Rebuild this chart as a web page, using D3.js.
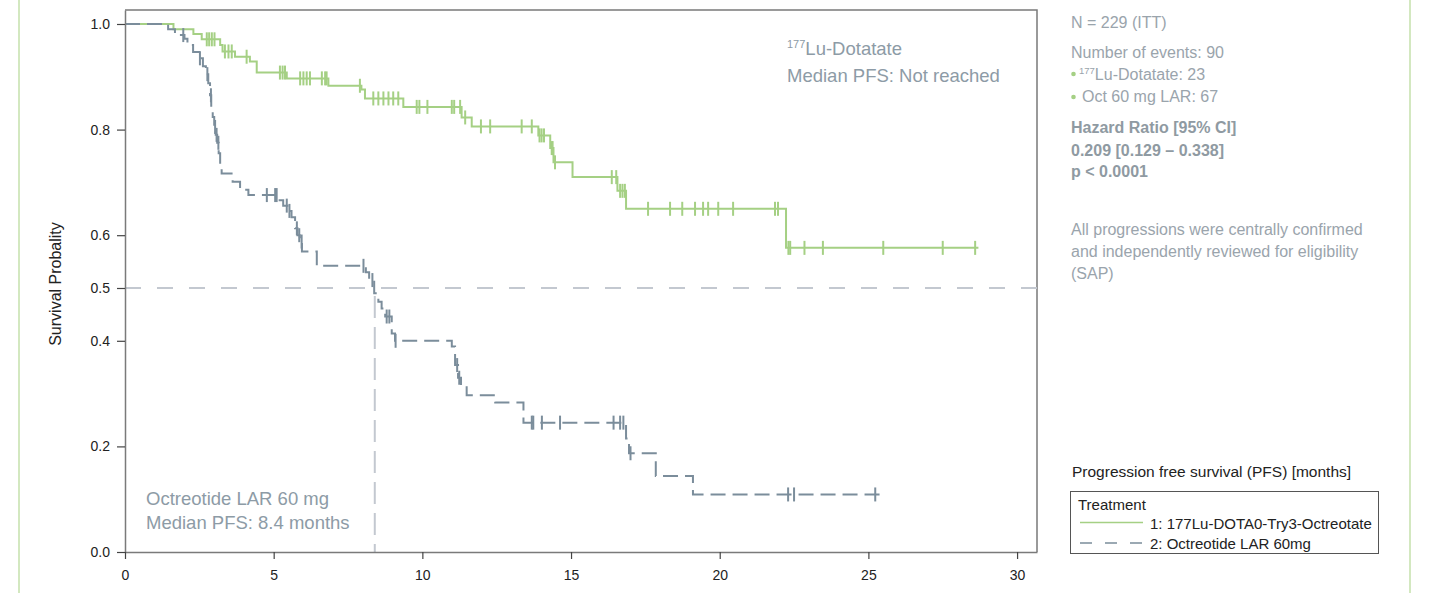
<!DOCTYPE html>
<html>
<head>
<meta charset="utf-8">
<script src="https://cdn.jsdelivr.net/npm/d3@7"></script>
<style>
  body { margin: 0; background: #fff; }
  svg { display: block; font-family: 'Liberation Sans', Arial, sans-serif; }
</style>
</head>
<body>
<script>
'use strict';

// 177Lu-Dotatate arm: step times (months) and survival after each step
const luTimes  = [1.63, 2.30, 2.58, 3.20, 3.28, 3.70, 4.20, 4.43, 5.44, 6.84, 7.95, 8.07,
                  9.36, 11.32, 11.66, 13.90, 14.30, 14.41, 15.05, 16.56, 16.85, 22.23];
const luSurv   = [0.990, 0.981, 0.971, 0.960, 0.948, 0.938, 0.929, 0.908, 0.897, 0.883, 0.876, 0.859,
                  0.843, 0.823, 0.806, 0.789, 0.765, 0.738, 0.710, 0.684, 0.650, 0.576];
const luCensor = [2.75, 2.83, 2.92, 3.01, 3.36, 3.48, 3.59, 4.09, 5.21, 5.30, 5.38, 5.89, 6.00,
                  6.11, 6.22, 6.62, 6.73, 6.78, 7.90, 8.35, 8.52, 8.69, 8.86, 9.02, 9.19, 9.81,
                  9.90, 10.17, 10.99, 11.07, 11.27, 11.44, 11.97, 12.28, 13.34, 13.68, 13.94, 14.01,
                  14.09, 14.35, 14.38, 14.46, 16.37, 16.52, 16.65, 16.73, 16.81, 17.59, 18.33, 18.74,
                  19.17, 19.44, 19.61, 19.95, 20.45, 21.86, 21.96, 22.31, 22.37, 22.85, 23.47, 25.50,
                  27.50, 28.59];
const luEnd    = 28.7;

// Octreotide LAR 60 mg arm
const octTimes  = [1.45, 1.68, 2.00, 2.10, 2.29, 2.50, 2.62, 2.72, 2.80, 2.86, 2.90, 2.95, 3.00,
                   3.05, 3.10, 3.15, 3.20, 3.25, 3.62, 3.87, 4.15, 5.15, 5.32, 5.52, 5.60, 5.72,
                   5.80, 5.88, 5.95, 6.45, 8.10, 8.21, 8.38, 8.52, 8.63, 8.75, 8.97, 9.08, 10.99,
                   11.10, 11.20, 11.30, 11.49, 12.45, 13.40, 16.85, 16.95, 17.85, 19.10];
const octSurv   = [0.990, 0.979, 0.972, 0.960, 0.947, 0.935, 0.920, 0.905, 0.888, 0.865, 0.843, 0.824, 0.805,
                   0.790, 0.775, 0.755, 0.735, 0.717, 0.701, 0.686, 0.676, 0.666, 0.656, 0.646, 0.634, 0.613,
                   0.600, 0.588, 0.569, 0.542, 0.530, 0.515, 0.490, 0.474, 0.461, 0.446, 0.414, 0.400, 0.389,
                   0.354, 0.330, 0.316, 0.297, 0.283, 0.245, 0.215, 0.187, 0.144, 0.109];
const octCensor = [1.96, 2.52, 2.77, 2.89, 3.03, 3.08, 3.14, 4.77, 5.05, 5.10, 5.44, 5.53, 5.78,
                   5.86, 5.94, 8.02, 8.32, 8.80, 8.89, 9.10, 11.17, 11.24, 13.68, 13.73, 14.02,
                   14.63, 16.43, 16.65, 16.76, 17.00, 22.30, 22.50, 25.23];
const octEnd    = 25.4;

const medianOct = 8.4;

const xTicks = [0, 5, 10, 15, 20, 25, 30];
const yTicks = [0, 0.2, 0.4, 0.5, 0.6, 0.8, 1.0];

const colors = {
  lu:    '#a5d084',
  oct:   '#7b8d9b',
  ref:   '#c3c8d0',
  note:  '#8d9ba6',
  side:  '#9aa4ac',
  frame: '#7a7a7a',
  text:  '#222'
};

const canvasW = 1432;
const canvasH = 593;

const x = d3.scaleLinear().domain([0, 30.67]).range([125, 1037]);
const y = d3.scaleLinear().domain([0, 1.0265]).range([552, 10]);

function stepPoints(times, surv, end) {
  const pts = [[0, 1]];
  times.forEach((t, i) => pts.push([t, surv[i]]));
  pts.push([end, surv[surv.length - 1]]);
  return pts;
}

function survAt(times, surv, t) {
  let v = 1;
  times.forEach((tt, i) => { if (tt <= t) v = surv[i]; });
  return v;
}

const svg = d3.select('body')
              .append('svg')
              .attr('width', canvasW)
              .attr('height', canvasH);

// page side rules
[19, 1410].forEach((px) => {
  svg.append('line')
     .attr('x1', px).attr('x2', px)
     .attr('y1', 0).attr('y2', canvasH)
     .attr('stroke', '#d3e8c0')
     .attr('stroke-width', 2);
});

// frame top / right
svg.append('path')
   .attr('d', 'M' + x.range()[0] + ',' + y.range()[1] + 'H' + x.range()[1] + 'V' + y.range()[0])
   .attr('fill', 'none')
   .attr('stroke', colors.frame)
   .attr('stroke-width', 1.5);

// median reference lines
svg.append('line')
   .attr('x1', x(0)).attr('x2', x.range()[1])
   .attr('y1', y(0.5)).attr('y2', y(0.5))
   .attr('stroke', colors.ref)
   .attr('stroke-width', 2)
   .attr('stroke-dasharray', '16,16');

svg.append('line')
   .attr('x1', x(medianOct)).attr('x2', x(medianOct))
   .attr('y1', y(0.5)).attr('y2', y(0))
   .attr('stroke', colors.ref)
   .attr('stroke-width', 2)
   .attr('stroke-dasharray', '22,9')
   .attr('stroke-dashoffset', -8);

const line = d3.line()
               .x((d) => x(d[0]))
               .y((d) => y(d[1]))
               .curve(d3.curveStepAfter);

function drawArm(times, surv, censor, end, color, dash) {
  svg.append('path')
     .datum(stepPoints(times, surv, end))
     .attr('d', line)
     .attr('fill', 'none')
     .attr('stroke', color)
     .attr('stroke-width', 2)
     .attr('stroke-dasharray', dash);

  svg.append('g')
     .selectAll('line')
     .data(censor)
     .join('line')
     .attr('x1', (d) => x(d)).attr('x2', (d) => x(d))
     .attr('y1', (d) => y(survAt(times, surv, d)) - 7)
     .attr('y2', (d) => y(survAt(times, surv, d)) + 7)
     .attr('stroke', color)
     .attr('stroke-width', 2);
}

drawArm(luTimes, luSurv, luCensor, luEnd, colors.lu, null);
drawArm(octTimes, octSurv, octCensor, octEnd, colors.oct, '15,7');

// axes
const yAxis = svg.append('g')
                 .attr('transform', 'translate(' + x(0) + ',0)')
                 .call(d3.axisLeft(y).tickValues(yTicks).tickFormat(d3.format('.1f'))
                         .tickSize(8).tickSizeOuter(0).tickPadding(7));

const xAxis = svg.append('g')
                 .attr('transform', 'translate(0,' + y(0) + ')')
                 .call(d3.axisBottom(x).tickValues(xTicks).tickFormat(d3.format('d'))
                         .tickSize(7).tickSizeOuter(0).tickPadding(11));

[yAxis, xAxis].forEach((g) => {
  g.select('.domain').attr('stroke', colors.frame).attr('stroke-width', 1.5);
  g.selectAll('.tick line').attr('stroke', '#444').attr('stroke-width', 1.2);
  g.selectAll('.tick text')
   .attr('fill', colors.text)
   .style('font-size', '14px')
   .style('font-family', "'Liberation Sans', Arial, sans-serif");
});

svg.append('text')
   .attr('transform', 'translate(61,284) rotate(-90)')
   .attr('text-anchor', 'middle')
   .attr('fill', colors.text)
   .style('font-size', '16px')
   .text('Survival Probality');

// in-plot annotations
function supText(sel, sup, rest, big, small, rise) {
  sel.append('tspan').style('font-size', small + 'px').attr('dy', -rise).text(sup);
  sel.append('tspan').style('font-size', big + 'px').attr('dy', rise).text(rest);
}

const luNote = svg.append('text')
                  .attr('x', 787).attr('y', 55)
                  .attr('fill', colors.note);
supText(luNote, '177', 'Lu-Dotatate', 18.5, 11, 7);

svg.append('text')
   .attr('x', 787).attr('y', 82)
   .attr('fill', colors.note)
   .style('font-size', '18.5px')
   .text('Median PFS: Not reached');

svg.append('text')
   .attr('x', 146).attr('y', 505)
   .attr('fill', colors.note)
   .style('font-size', '18.5px')
   .text('Octreotide LAR 60 mg');

svg.append('text')
   .attr('x', 146).attr('y', 529)
   .attr('fill', colors.note)
   .style('font-size', '18.5px')
   .text('Median PFS: ' + medianOct + ' months');

// side panel
const sideX = 1071;

function sideLine(yy, txt, bold) {
  return svg.append('text')
            .attr('x', sideX).attr('y', yy)
            .attr('fill', bold ? '#8f9aa2' : colors.side)
            .style('font-size', '16px')
            .style('font-weight', bold ? 'bold' : 'normal')
            .text(txt);
}

sideLine(27.5, 'N = 229 (ITT)');
sideLine(57.5, 'Number of events: 90');

[74, 97].forEach((cy) => {
  svg.append('circle')
     .attr('cx', sideX + 2.5).attr('cy', cy)
     .attr('r', 2.3)
     .attr('fill', colors.lu);
});

const bullet1 = svg.append('text')
                   .attr('x', sideX + 8).attr('y', 80)
                   .attr('fill', colors.side);
supText(bullet1, '177', 'Lu-Dotatate: 23', 16, 9.5, 6);

sideLine(102, 'Oct 60 mg LAR: 67').attr('x', sideX + 11);

sideLine(133, 'Hazard Ratio [95% CI]', true);
sideLine(155.5, '0.209 [0.129 \u2013 0.338]', true);
sideLine(177, 'p < 0.0001', true);

sideLine(235, 'All progressions were centrally confirmed');
sideLine(257, 'and independently reviewed for eligibility');
sideLine(279, '(SAP)');

// legend
svg.append('text')
   .attr('x', 1072).attr('y', 477)
   .attr('fill', colors.text)
   .style('font-size', '15.5px')
   .text('Progression free survival (PFS) [months]');

svg.append('rect')
   .attr('x', 1070.5).attr('y', 491.5)
   .attr('width', 308).attr('height', 62)
   .attr('fill', 'none')
   .attr('stroke', '#555')
   .attr('stroke-width', 1);

svg.append('text')
   .attr('x', 1078).attr('y', 510)
   .attr('fill', colors.text)
   .style('font-size', '15px')
   .text('Treatment');

const legendItems = [
  { label: '1: 177Lu-DOTA0-Try3-Octreotate', color: colors.lu, dash: null },
  { label: '2: Octreotide LAR 60mg', color: colors.oct, dash: '12,13' }
];

legendItems.forEach((d, i) => {
  const ly = 522.5 + i * 20.5;
  svg.append('line')
     .attr('x1', 1080).attr('x2', 1143)
     .attr('y1', ly).attr('y2', ly)
     .attr('stroke', d.color)
     .attr('stroke-width', 1.5)
     .attr('stroke-dasharray', d.dash);
  svg.append('text')
     .attr('x', 1150).attr('y', ly + 6)
     .attr('fill', colors.text)
     .style('font-size', '15px')
     .text(d.label);
});
</script>
</body>
</html>
